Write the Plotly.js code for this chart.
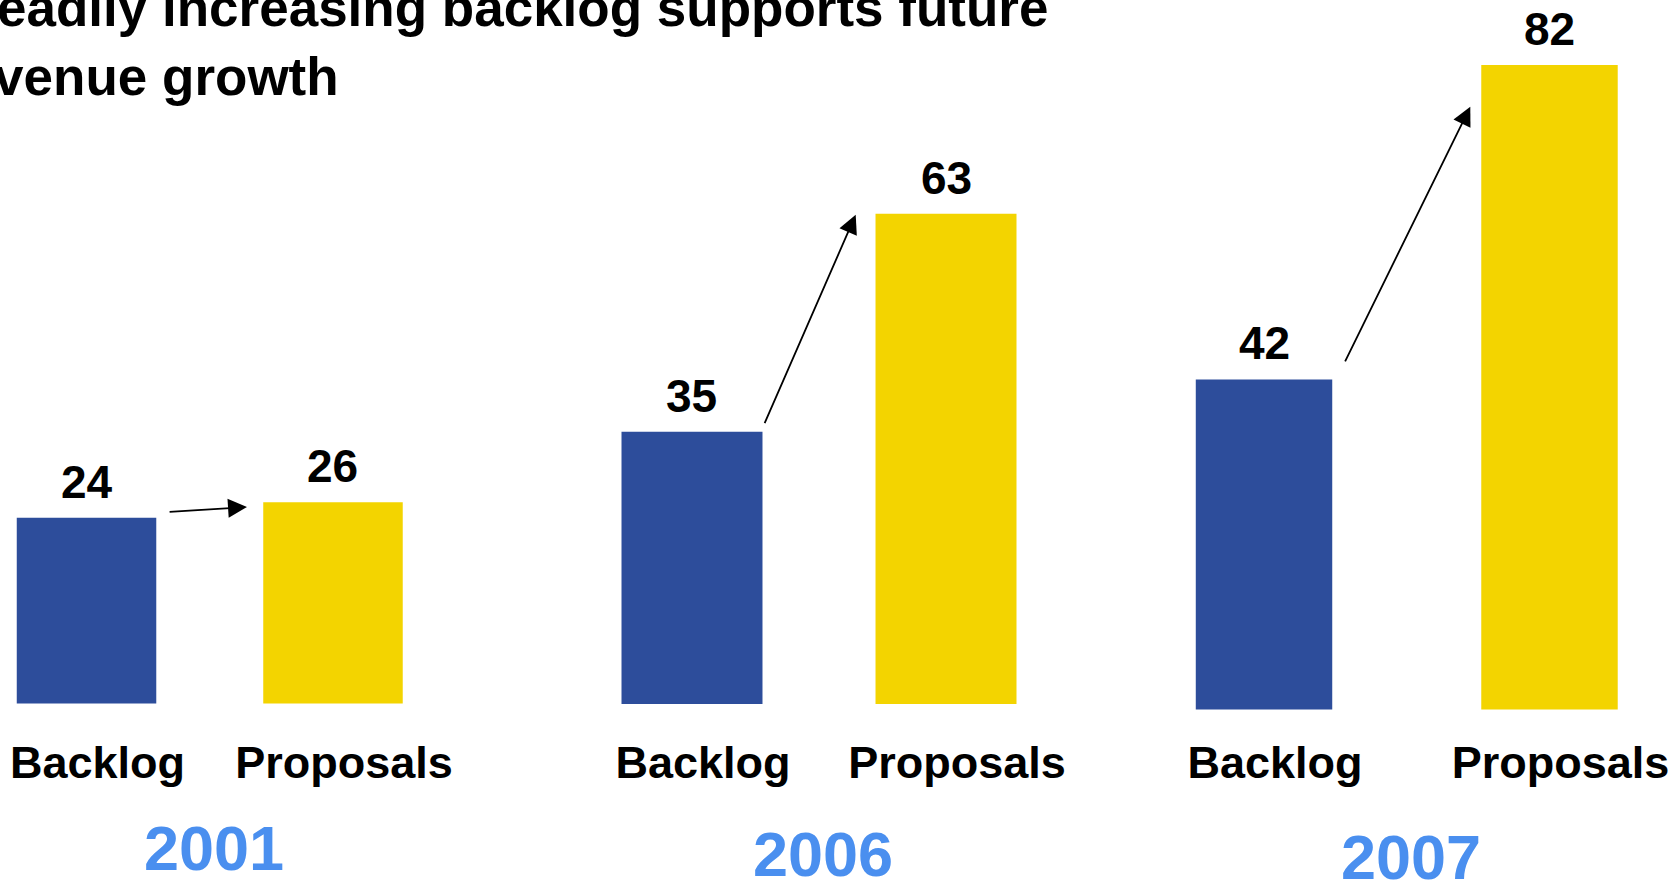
<!DOCTYPE html>
<html>
<head>
<meta charset="utf-8">
<script src="https://cdn.plot.ly/plotly-3.0.1.min.js"></script>
<style>
  html, body { margin: 0; padding: 0; background: #ffffff; }
  #chart { width: 1673px; height: 881px; }
</style>
</head>
<body>
<div id="chart"></div>
<script>
// ---- data ----
const years = ['2001', '2006', '2007'];
const categories = ['Backlog', 'Proposals'];
const backlog = [24, 35, 42];
const proposals = [26, 63, 82];
const titleText = 'Steadily increasing backlog supports future<br>revenue growth';

// ---- styles ----
const FONT = 'Liberation Sans, Arial, Helvetica, sans-serif';
const BLUE = '#2D4D9B';
const YELLOW = '#F3D400';
const YEAR_BLUE = '#4A8FEF';

// per-group layout (positions only)
const domains = [[0, 0.25075], [0.35206, 0.62702], [0.68545, 0.99626]];
const xRanges = [[-0.351, 1.351], [-0.4055, 1.4055], [-0.4107, 1.4107]];
const yRanges = [[-22.93, 90.89], [-22.75, 90.49], [-21.82, 90.27]];
const barWidths = [0.566, 0.555, 0.478];
const yearY = [0.038, 0.0301, 0.0267];
// arrow geometry in axis units: [headX, headY, tailX, tailY]
const arrows = [[0.651, 25.39, 0.331, 24.74], [0.6445, 62.9, 0.2835, 35.9], [0.7226, 76.7, 0.2816, 44.1]];

const traces = [];
const layout = {
  width: 1673, height: 881,
  margin: {l: 0, r: 0, t: 0, b: 0, pad: 0},
  paper_bgcolor: '#ffffff', plot_bgcolor: '#ffffff',
  showlegend: false,
  font: {family: FONT, color: '#000000'},
  annotations: []
};

years.forEach((yr, i) => {
  const sfx = i === 0 ? '' : String(i + 1);
  const vals = [backlog[i], proposals[i]];
  traces.push({
    type: 'bar',
    x: categories,
    y: vals,
    xaxis: 'x' + sfx, yaxis: 'y' + sfx,
    width: barWidths[i],
    marker: {color: [BLUE, YELLOW], line: {width: 0}},
    hoverinfo: 'skip'
  });
  // value labels above bars
  categories.forEach((c, j) => {
    layout.annotations.push({
      xref: 'x' + sfx, yref: 'y' + sfx, x: c, y: vals[j],
      xanchor: 'center', yanchor: 'bottom', yshift: 8,
      text: String(vals[j]), showarrow: false,
      font: {family: FONT, size: 46, color: '#000000', weight: 'bold'}
    });
  });
  layout['xaxis' + sfx] = {
    domain: domains[i], range: xRanges[i], type: 'category',
    anchor: 'free', position: 0.2009,
    showgrid: false, zeroline: false, showline: false, ticks: '',
    ticklabelstandoff: 28, ticklabelshift: 11,
    tickfont: {family: FONT, size: 45, color: '#000000', weight: 'bold'},
    automargin: false, fixedrange: true
  };
  layout['yaxis' + sfx] = {
    domain: [0, 1], range: yRanges[i], anchor: 'x' + sfx,
    showgrid: false, zeroline: false, showline: false, showticklabels: false, ticks: '',
    automargin: false, fixedrange: true
  };
  // year label
  layout.annotations.push({
    xref: 'x' + sfx, yref: 'paper', x: 0.5, y: yearY[i],
    xanchor: 'center', yanchor: 'middle', xshift: 4,
    text: yr, showarrow: false,
    font: {family: FONT, size: 63, color: YEAR_BLUE, weight: 'bold'}
  });
  // arrow
  const a = arrows[i];
  layout.annotations.push({
    xref: 'x' + sfx, yref: 'y' + sfx, axref: 'x' + sfx, ayref: 'y' + sfx,
    x: a[0], y: a[1], ax: a[2], ay: a[3],
    text: '', showarrow: true,
    arrowhead: 2, arrowsize: 2.1, arrowwidth: 1.8, arrowcolor: '#000000', standoff: 0
  });
});

// title (left part runs off the canvas as in the reference)
layout.annotations.push({
  xref: 'paper', yref: 'paper', x: -58 / 1673, y: 1,
  xanchor: 'left', yanchor: 'top', yshift: 24, align: 'left',
  text: titleText, showarrow: false,
  font: {family: FONT, size: 53, color: '#000000', weight: 'bold'}
});

Plotly.newPlot('chart', traces, layout, {displayModeBar: false, staticPlot: true});
</script>
</body>
</html>
